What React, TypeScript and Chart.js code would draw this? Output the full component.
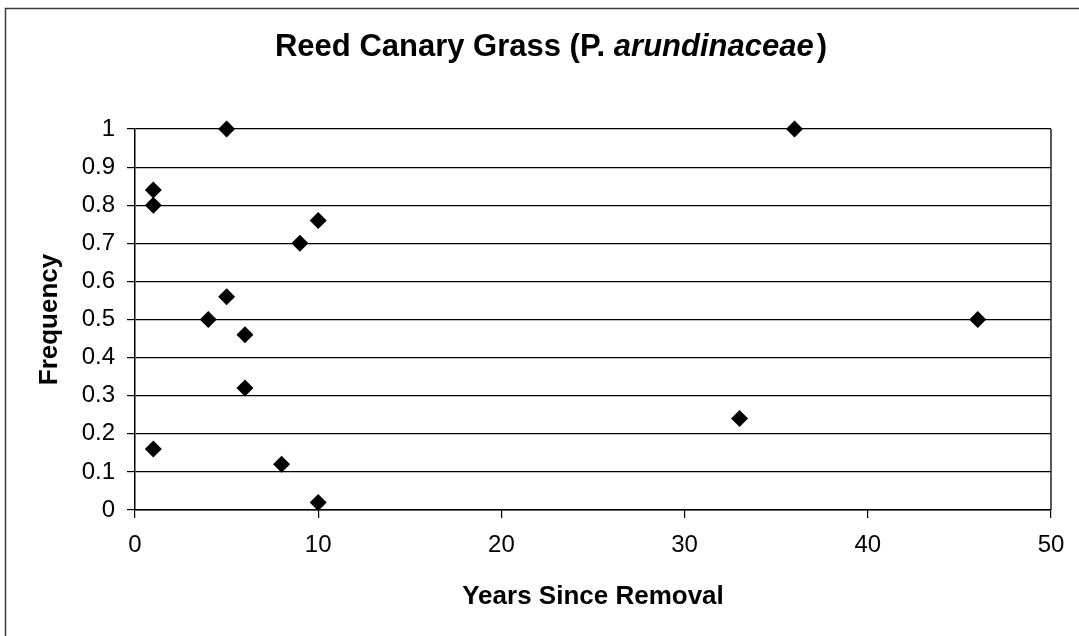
import React, { useEffect, useRef } from "react";
import { Chart, registerables } from "chart.js";

Chart.register(...registerables);

const titleMain = "Reed Canary Grass (P. ";
const titleItalic = "arundinaceae";
const titleEnd = ")";
const xAxisTitle = "Years Since Removal";
const yAxisTitle = "Frequency";

const yearsSinceRemoval = [1, 1, 1, 4, 5, 5, 6, 6, 8, 9, 10, 10, 33, 36, 46];
const frequency = [0.84, 0.8, 0.16, 0.5, 1.0, 0.56, 0.46, 0.32, 0.12, 0.7, 0.76, 0.02, 0.24, 1.0, 0.5];

const xTicks = [0, 10, 20, 30, 40, 50];
const yTicks = [0, 0.1, 0.2, 0.3, 0.4, 0.5, 0.6, 0.7, 0.8, 0.9, 1];
const yTickLabels = ["0", "0.1", "0.2", "0.3", "0.4", "0.5", "0.6", "0.7", "0.8", "0.9", "1"];

const FONT = "'Liberation Sans', Arial, Helvetica, sans-serif";

const decorPlugin = {
  id: "decor",
  beforeDraw(chart: any) {
    const { ctx, width, height } = chart;
    ctx.save();
    ctx.fillStyle = "#ffffff";
    ctx.fillRect(0, 0, width, height);
    ctx.restore();
  },
  afterDraw(chart: any) {
    const { ctx, chartArea } = chart;
    ctx.save();
    // outer frame (top and left edges)
    ctx.strokeStyle = "#3a3a3a";
    ctx.lineWidth = 1.5;
    ctx.beginPath();
    ctx.moveTo(5.5, 636);
    ctx.lineTo(5.5, 8.5);
    ctx.lineTo(1079, 8.5);
    ctx.stroke();

    // plot area border right side
    ctx.strokeStyle = "#222";
    ctx.lineWidth = 1.5;
    ctx.beginPath();
    ctx.moveTo(chartArea.right, chartArea.top);
    ctx.lineTo(chartArea.right, chartArea.bottom);
    ctx.stroke();

    // main title with italic part
    ctx.fillStyle = "#000";
    ctx.textBaseline = "alphabetic";
    ctx.textAlign = "left";
    const fBold = `bold 31px ${FONT}`;
    const fItal = `italic bold 31px ${FONT}`;
    ctx.font = fBold;
    const w1 = ctx.measureText(titleMain).width;
    const w3 = ctx.measureText(titleEnd).width;
    ctx.font = fItal;
    const w2 = ctx.measureText(titleItalic).width;
    const total = w1 + w2 + w3 + 3;
    let x = 551 - total / 2;
    const baseY = 56;
    ctx.font = fBold;
    ctx.fillText(titleMain, x, baseY);
    x += w1;
    ctx.font = fItal;
    ctx.fillText(titleItalic, x, baseY);
    x += w2 + 3;
    ctx.font = fBold;
    ctx.fillText(titleEnd, x, baseY);

    // axis titles
    ctx.font = `bold 26px ${FONT}`;
    ctx.textAlign = "center";
    ctx.textBaseline = "middle";
    ctx.fillText(xAxisTitle, (chartArea.left + chartArea.right) / 2, 597);
    ctx.save();
    ctx.translate(50, (chartArea.top + chartArea.bottom) / 2);
    ctx.rotate(-Math.PI / 2);
    ctx.fillText(yAxisTitle, 0, 0);
    ctx.restore();
    ctx.restore();
  },
};

export default function App() {
  const canvasRef = useRef<HTMLCanvasElement | null>(null);

  useEffect(() => {
    const canvas = canvasRef.current;
    if (!canvas) return;
    const points = yearsSinceRemoval.map((x, i) => ({ x, y: frequency[i] }));
    const chart = new Chart(canvas, {
      type: "scatter",
      data: {
        datasets: [
          {
            label: "Frequency",
            data: points,
            pointStyle: "rectRot",
            pointRadius: 8.5,
            pointHoverRadius: 8.5,
            backgroundColor: "#000",
            borderColor: "#000",
            borderWidth: 0,
            clip: false,
          },
        ],
      },
      options: {
        responsive: false,
        animation: false,
        events: [],
        layout: { padding: { top: 129, right: 28, bottom: 0, left: 0 } },
        plugins: {
          legend: { display: false },
          title: { display: false },
          tooltip: { enabled: false },
        },
        scales: {
          x: {
            type: "linear",
            min: 0,
            max: 50,
            afterFit(scale: any) {
              scale.height = 126;
            },
            afterBuildTicks(scale: any) {
              scale.ticks = xTicks.map((v) => ({ value: v }));
            },
            border: { display: true, color: "#000", width: 1.5 },
            grid: {
              drawOnChartArea: false,
              drawTicks: true,
              tickLength: 8,
              color: "#000",
              lineWidth: 1.2,
            },
            ticks: {
              color: "#000",
              padding: 13,
              maxRotation: 0,
              font: { family: FONT, size: 24 },
              callback: (v: any) => String(v),
            },
          },
          y: {
            type: "linear",
            min: 0,
            max: 1,
            afterFit(scale: any) {
              scale.width = 135;
            },
            afterBuildTicks(scale: any) {
              scale.ticks = yTicks.map((v) => ({ value: v }));
            },
            border: { display: true, color: "#000", width: 1.5 },
            grid: {
              drawOnChartArea: true,
              drawTicks: true,
              tickLength: 8,
              color: "#000",
              lineWidth: 1.2,
            },
            ticks: {
              color: "#000",
              padding: 12,
              font: { family: FONT, size: 24 },
              callback: (_v: any, i: number) => yTickLabels[i],
            },
          },
        },
      },
      plugins: [decorPlugin],
    });
    return () => {
      chart.destroy();
    };
  }, []);

  return (
    <div style={{ position: "absolute", left: 0, top: 0, width: 1079, height: 636, background: "#fff" }}>
      <canvas ref={canvasRef} width={1079} height={636} style={{ display: "block" }} />
    </div>
  );
}
